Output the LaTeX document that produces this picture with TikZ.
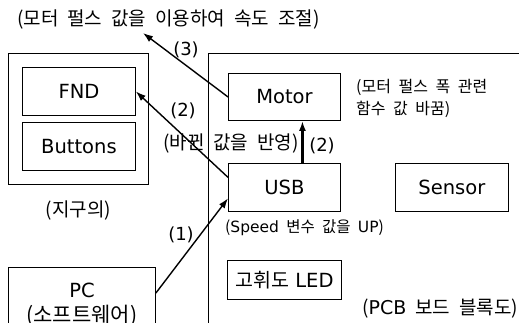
\documentclass[tikz,border=0pt]{standalone}
\usepackage{fontspec}
\setmainfont{DejaVu Sans}
\newfontfamily\krfont[WordSpace=2.1]{Noto Sans CJK KR}
\newcommand\entxt[1]{{\rmfamily #1}}
\usetikzlibrary{arrows.meta, positioning}

\begin{document}
\begin{tikzpicture}[
  x=1pt, y=-1pt,
  font=\fontsize{19.5}{22}\selectfont,
  frame/.style={draw, line width=0.9pt, inner sep=0pt},
  blk/.style={frame, minimum width=113pt, minimum height=48pt},
  note/.style={inner sep=0pt, font=\krfont\fontsize{19}{20}\selectfont},
  noteSm/.style={inner sep=0pt, font=\krfont\fontsize{16}{22}\selectfont, align=left},
  numLbl/.style={inner sep=0pt, font=\fontsize{18}{20}\selectfont},
  flow/.style={draw, line width=1.4pt, -{Latex[length=10pt, width=7pt]}},
  flowBold/.style={flow, line width=2.6pt}
]
\useasboundingbox (0,0) rectangle (519,322);
\clip (0,0) rectangle (519,322);

% left board
\node[frame, minimum width=140pt, minimum height=131pt, anchor=north west] (jigu) at (8,53) {};
\node[blk, anchor=north west] (fnd) at (22,67) {FND};
\node[blk, anchor=north west] (btn) at (22,122) {Buttons};
\node[note] (jiguLbl) at (78.5,210) {(지구의)};

\node[frame, minimum width=147pt, minimum height=74pt, anchor=north west, align=center] (pc) at (8,267)
  {PC\\[3pt]{\krfont\fontsize{21}{22}\selectfont (소프트웨어)}};

% PCB board
\node[frame, minimum width=360pt, minimum height=300pt, anchor=north west] (pcb) at (208,53) {};
\node[blk, minimum width=112pt, minimum height=47pt, anchor=north west] (motor) at (228,73) {Motor};
\node[blk, minimum width=112pt, below=42pt of motor] (usb) {USB};
\node[blk, right=54pt of usb] (sensor) {Sensor};
\node[frame, minimum width=114pt, minimum height=39pt, below=48pt of usb] (led)
  {{\krfont 고휘도} LED};

% texts
\node[note, anchor=west] (title) at (17,20) {(모터 펄스 값을 이용하여 속도 조절)};
\node[note, anchor=west] (reflect) at (163,144) {(바뀐 값을 반영)};
\node[noteSm, anchor=west] (motorNote) at (356,98) {(모터 펄스 폭 관련\\함수 값 바꿈)};
\node[noteSm, font=\krfont\fontsize{15.5}{16}\selectfont, anchor=west] (speedNote) at (225,228)
  {(\entxt{Speed} 변수 값을 \entxt{UP})};
\node[note, anchor=west] (pcbLbl) at (362,309) {(\entxt{PCB} 보드 블록도)};

\node[numLbl] (n3) at (186,50) {(3)};
\node[numLbl] (n2a) at (183,111) {(2)};
\node[numLbl] (n2b) at (322,146) {(2)};
\node[numLbl] (n1) at (181,235) {(1)};

% arrows
\coordinate (t3) at (143,33);
\draw[flow] (motor.west) -- (t3);
\draw[flow] ([yshift=10pt]usb.west) -- (fnd.east);
\draw[flow] ([yshift=-26pt]pc.north east) -- ([yshift=-11pt]usb.west);
\draw[flowBold] ([xshift=18pt]usb.north) -- ([xshift=18pt]motor.south);
\end{tikzpicture}
\end{document}
